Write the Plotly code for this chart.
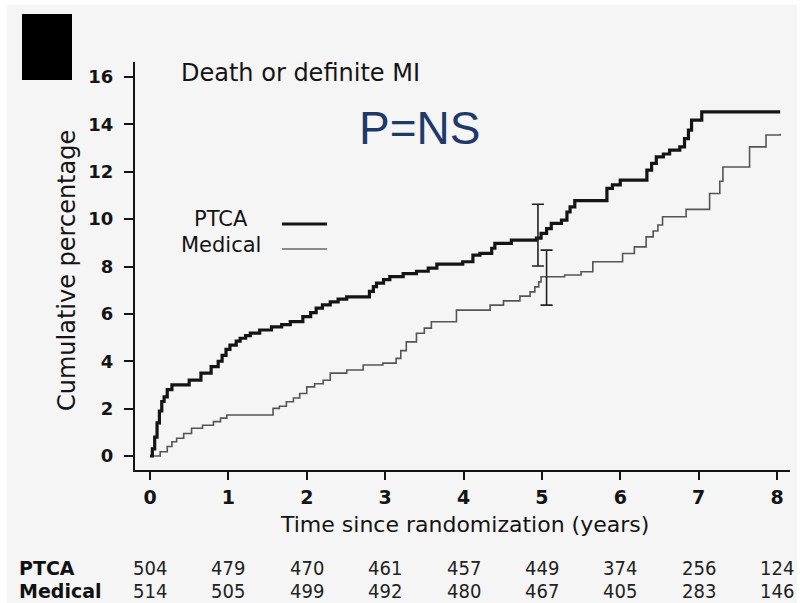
import plotly.graph_objects as go

# ---------------- data ----------------
ptca_t = [0, 0.03, 0.06, 0.09, 0.12, 0.15, 0.18, 0.22, 0.28, 0.5, 0.65, 0.78, 0.87, 0.92, 0.97,
          1.02, 1.1, 1.15, 1.22, 1.28, 1.4, 1.55, 1.68, 1.79, 1.95, 2.05, 2.12, 2.2, 2.3, 2.4,
          2.51, 2.8, 2.85, 2.89, 2.98, 3.06, 3.23, 3.4, 3.55, 3.66, 3.99, 4.12, 4.21, 4.36, 4.4,
          4.61, 4.93, 4.99, 5.06, 5.12, 5.25, 5.32, 5.36, 5.42, 5.83, 5.9, 6.0, 6.34, 6.4, 6.46,
          6.55, 6.63, 6.76, 6.82, 6.87, 6.91, 7.04, 8.04]
ptca_y = [0, 0.3, 0.8, 1.4, 1.9, 2.3, 2.5, 2.8, 3.0, 3.2, 3.5, 3.77, 4.0, 4.25, 4.5,
          4.68, 4.85, 4.97, 5.08, 5.19, 5.32, 5.45, 5.55, 5.67, 5.88, 6.05, 6.24, 6.38, 6.51, 6.62,
          6.72, 6.95, 7.15, 7.3, 7.45, 7.57, 7.7, 7.8, 7.93, 8.1, 8.2, 8.48, 8.55, 8.77, 8.98,
          9.11, 9.2, 9.4, 9.6, 9.82, 9.96, 10.3, 10.52, 10.78, 11.3, 11.45, 11.65, 12.07, 12.35, 12.63,
          12.75, 12.91, 13.05, 13.4, 13.76, 14.18, 14.53, 14.53]

med_t = [0, 0.13, 0.22, 0.28, 0.34, 0.43, 0.53, 0.67, 0.81, 0.9, 0.98, 1.57, 1.65, 1.74, 1.83,
         1.91, 2.0, 2.1, 2.21, 2.3, 2.51, 2.72, 2.97, 3.14, 3.2, 3.27, 3.4, 3.5, 3.59, 3.91,
         4.34, 4.51, 4.72, 4.85, 4.91, 4.96, 4.99, 5.29, 5.5, 5.65, 6.03, 6.18, 6.33, 6.42, 6.48,
         6.54, 6.84, 7.14, 7.27, 7.31, 7.65, 7.86, 8.04]
med_y = [0, 0.18, 0.4, 0.6, 0.75, 0.95, 1.17, 1.3, 1.45, 1.6, 1.73, 2.01, 2.1, 2.29, 2.45,
         2.64, 2.92, 3.05, 3.2, 3.5, 3.63, 3.84, 3.92, 4.12, 4.45, 4.82, 5.18, 5.4, 5.67, 6.16,
         6.37, 6.55, 6.75, 6.93, 7.14, 7.35, 7.57, 7.64, 7.78, 8.2, 8.55, 8.83, 9.25, 9.5, 9.75,
         10.1, 10.41, 11.08, 11.6, 12.2, 13.05, 13.55, 13.6]

# 5-year estimates with confidence limits
err_t = [4.95, 5.06]
err_mid = [9.2, 7.6]
err_hi = [10.63, 8.69]
err_lo = [8.02, 6.37]

tick_years = [0, 1, 2, 3, 4, 5, 6, 7, 8]
y_ticks = [0, 2, 4, 6, 8, 10, 12, 14, 16]
risk_ptca = [504, 479, 470, 461, 457, 449, 374, 256, 124]
risk_med = [514, 505, 499, 492, 480, 467, 405, 283, 146]

# ---------------- layout helpers ----------------
W, H = 806, 603
L, R, T, B = 135, 16, 62, 133
PW, PH = W - L - R, H - T - B


def X(px):
    return (px - L) / PW


def Y(py):
    return (H - B - py) / PH


FONT = "DejaVu Sans, Liberation Sans, Arial, sans-serif"
NARROW = "DejaVu Sans Condensed, Liberation Sans Narrow, Arial Narrow, DejaVu Sans, sans-serif"
INK = "#141414"

fig = go.Figure()

fig.add_trace(go.Scatter(x=med_t, y=med_y, mode="lines", line=dict(shape="hv", color="#555555", width=1.6),
                         showlegend=False, hoverinfo="skip"))
fig.add_trace(go.Scatter(x=ptca_t, y=ptca_y, mode="lines", line=dict(shape="hv", color="#141414", width=3.2),
                         showlegend=False, hoverinfo="skip"))
fig.add_trace(go.Scatter(
    x=err_t, y=err_mid, mode="markers", marker=dict(size=1, color="rgba(0,0,0,0)"),
    error_y=dict(type="data", symmetric=False,
                 array=[h - m for h, m in zip(err_hi, err_mid)],
                 arrayminus=[m - l for l, m in zip(err_lo, err_mid)],
                 color="#222222", thickness=1.6, width=6),
    showlegend=False, hoverinfo="skip"))

shapes = [
    # scanned figure background
    dict(type="rect", xref="paper", yref="paper", x0=X(7), x1=X(797), y0=Y(603), y1=Y(5),
         fillcolor="#f5f5f5", line=dict(width=0), layer="below"),
    # black block top-left
    dict(type="rect", xref="paper", yref="paper", x0=X(22), x1=X(72), y0=Y(80), y1=Y(14),
         fillcolor="#000000", line=dict(width=0)),
    # legend lines
    dict(type="line", xref="paper", yref="paper", x0=X(282), x1=X(327), y0=Y(224), y1=Y(224),
         line=dict(color="#141414", width=3.2)),
    dict(type="line", xref="paper", yref="paper", x0=X(282), x1=X(327), y0=Y(249), y1=Y(249),
         line=dict(color="#666666", width=1.6)),
]

ann = [
    dict(text="Death or definite MI", x=X(179), y=Y(73), xanchor="left", yanchor="middle",
         font=dict(family=FONT, size=24, color=INK)),
    dict(text="P=NS", x=X(419), y=Y(128), xanchor="center", yanchor="middle",
         font=dict(family="Liberation Sans, Arial, sans-serif", size=46, color="#1f3a68")),
    dict(text="PTCA", x=X(221), y=Y(219), xanchor="center", yanchor="middle",
         font=dict(family=FONT, size=21, color=INK)),
    dict(text="Medical", x=X(221), y=Y(245), xanchor="center", yanchor="middle",
         font=dict(family=FONT, size=21, color=INK)),
    dict(text="Cumulative percentage", x=X(67), y=Y(271), xanchor="center", yanchor="middle", textangle=-90,
         font=dict(family=FONT, size=24, color=INK)),
    dict(text="Time since randomization (years)", x=X(465), y=Y(524), xanchor="center", yanchor="middle",
         font=dict(family=FONT, size=22, color=INK)),
    dict(text="<b>PTCA</b>", x=X(17), y=Y(568), xanchor="left", yanchor="middle",
         font=dict(family=FONT, size=19, color="#111")),
    dict(text="<b>Medical</b>", x=X(17), y=Y(591), xanchor="left", yanchor="middle",
         font=dict(family=FONT, size=19, color="#111")),
]
for t, a, b in zip(tick_years, risk_ptca, risk_med):
    ann.append(dict(text=str(a), x=t, xref="x", y=Y(568), yref="paper", xanchor="center", yanchor="middle",
                    font=dict(family=NARROW, size=20, color="#222")))
    ann.append(dict(text=str(b), x=t, xref="x", y=Y(591), yref="paper", xanchor="center", yanchor="middle",
                    font=dict(family=NARROW, size=20, color="#222")))
for a in ann:
    a.setdefault("xref", "paper")
    a.setdefault("yref", "paper")
    a["showarrow"] = False

x0v, ppx = 150, (777 - 150) / 8
y0v, ppy = 456, (456 - 77) / 16

fig.update_layout(
    width=W, height=H,
    margin=dict(l=L, r=R, t=T, b=B, pad=0),
    paper_bgcolor="#ffffff", plot_bgcolor="rgba(0,0,0,0)",
    shapes=shapes, annotations=ann,
    xaxis=dict(range=[(L - x0v) / ppx, (W - R - x0v) / ppx], tickvals=tick_years,
               showgrid=False, zeroline=False, showline=True, linecolor=INK, linewidth=2,
               ticks="outside", ticklen=8, tickwidth=2, tickcolor=INK, ticklabelstandoff=1,
               tickfont=dict(family=FONT, size=19, color=INK, weight="bold"), fixedrange=True),
    yaxis=dict(range=[(y0v - (H - B)) / ppy, (y0v - T) / ppy], tickvals=y_ticks,
               showgrid=False, zeroline=False, showline=True, linecolor=INK, linewidth=2,
               ticks="outside", ticklen=9, tickwidth=2, tickcolor=INK, ticklabelstandoff=7,
               tickfont=dict(family=FONT, size=18, color=INK, weight="bold"), fixedrange=True),
)

fig.write_html("out.html")
